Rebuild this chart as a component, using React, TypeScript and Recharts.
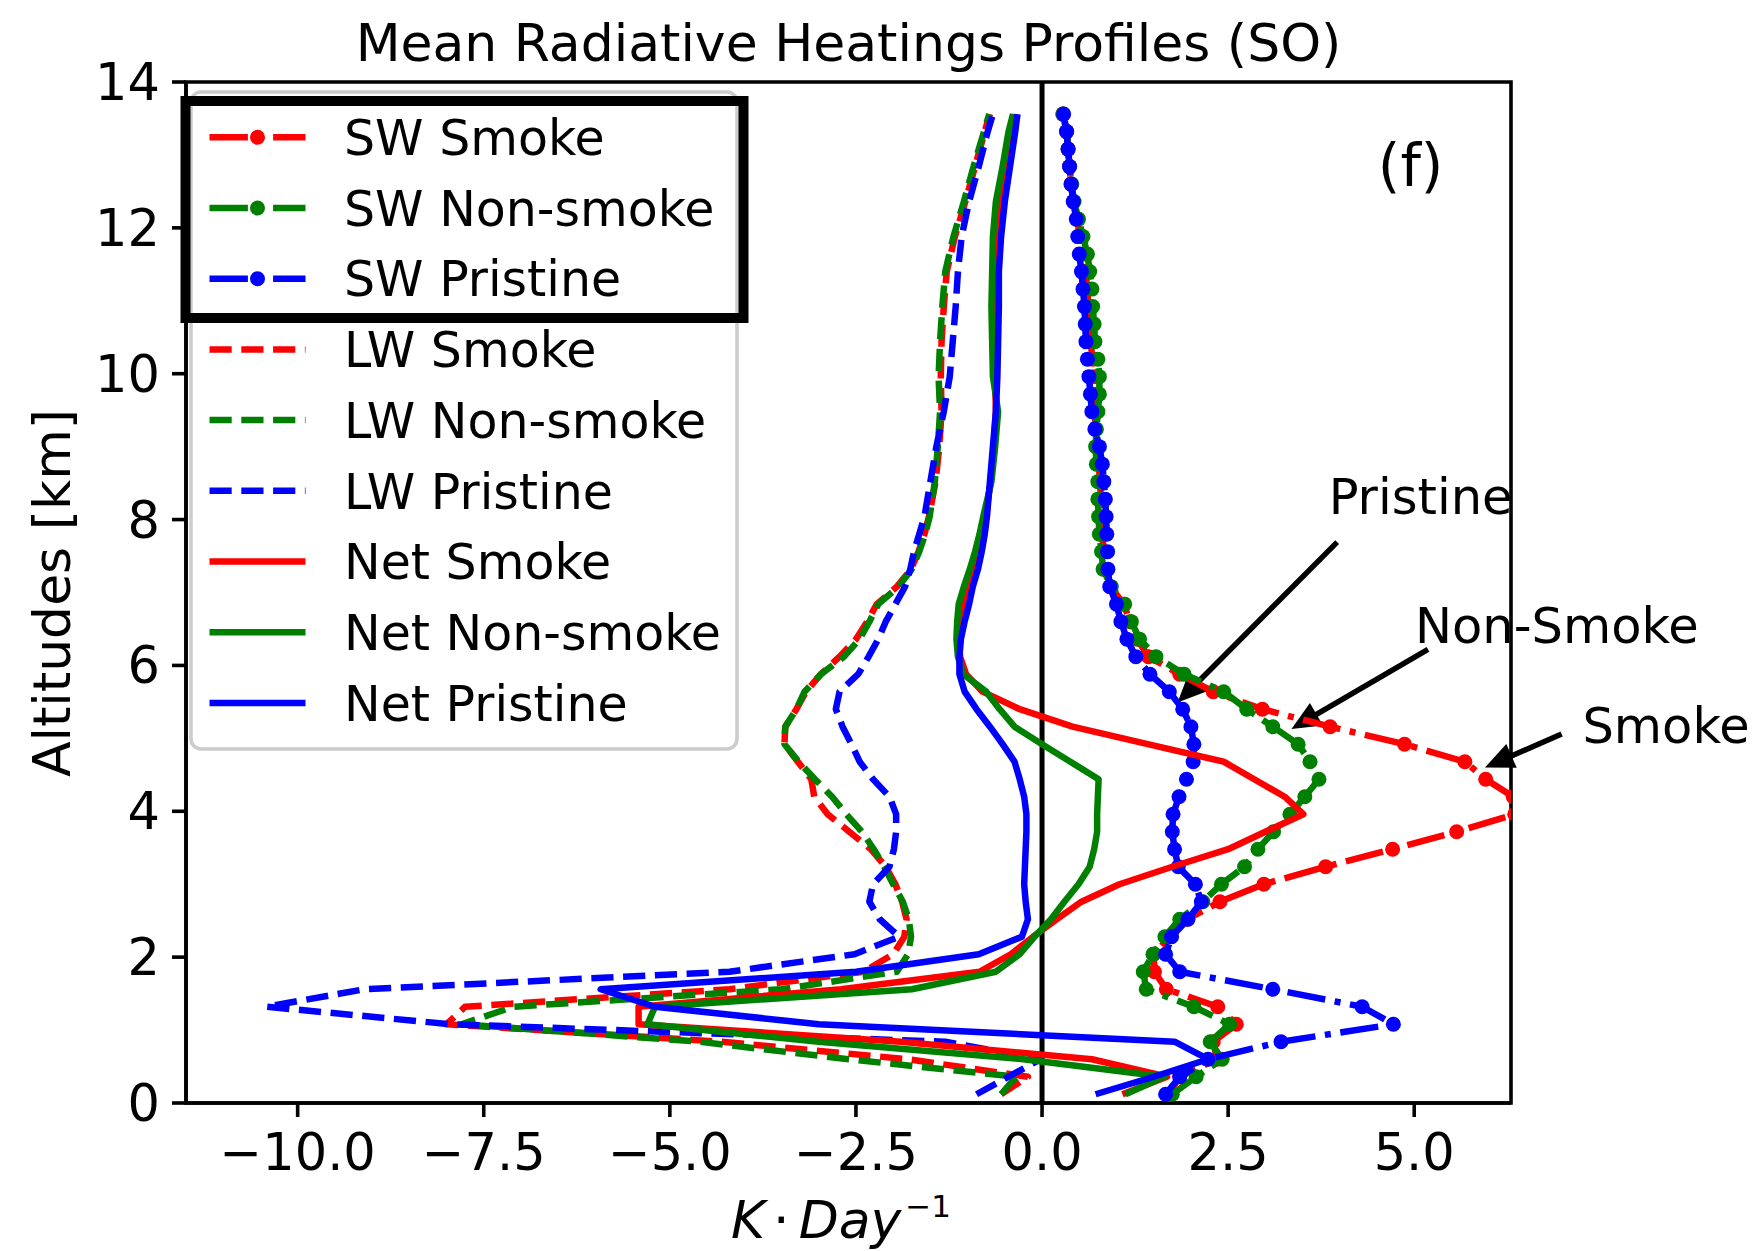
import React from 'react';
import { ScatterChart, Scatter, XAxis, YAxis, ReferenceLine, ReferenceArea, ReferenceDot } from 'recharts';

const FONT = 'DejaVu Sans, sans-serif';

// ---------- data (km, K/day) ----------
const swAltitudes = [0.12, 0.36, 0.60, 0.84, 1.08, 1.32, 1.56, 1.80, 2.04, 2.28, 2.52, 2.76, 3.00, 3.24, 3.48, 3.72, 3.96, 4.20, 4.44, 4.68, 4.92, 5.16, 5.40, 5.64, 5.88, 6.12, 6.36, 6.60, 6.84, 7.08, 7.32, 7.56, 7.80, 8.04, 8.28, 8.52, 8.76, 9.00, 9.24, 9.48, 9.72, 9.96, 10.20, 10.44, 10.68, 10.92, 11.16, 11.40, 11.64, 11.88, 12.12, 12.36, 12.60, 12.84, 13.08, 13.32, 13.56];

const swSmoke = [1.70, 1.85, 2.35, 2.30, 2.61, 2.36, 1.67, 1.51, 1.50, 1.72, 1.95, 2.39, 2.98, 3.81, 4.71, 5.57, 6.35, 6.33, 5.96, 5.68, 4.87, 3.87, 2.96, 2.30, 1.85, 1.43, 1.28, 1.18, 1.10, 0.92, 0.84, 0.83, 0.81, 0.80, 0.79, 0.78, 0.76, 0.74, 0.72, 0.71, 0.71, 0.70, 0.68, 0.65, 0.64, 0.62, 0.61, 0.58, 0.55, 0.51, 0.47, 0.42, 0.39, 0.37, 0.35, 0.33, 0.28];
const swNonSmoke = [1.75, 2.07, 2.42, 2.26, 2.52, 2.04, 1.40, 1.36, 1.49, 1.65, 1.85, 2.16, 2.41, 2.72, 2.90, 3.11, 3.33, 3.53, 3.72, 3.60, 3.44, 3.10, 2.75, 2.44, 1.91, 1.53, 1.31, 1.20, 1.11, 0.93, 0.82, 0.80, 0.77, 0.76, 0.75, 0.75, 0.73, 0.72, 0.73, 0.75, 0.77, 0.77, 0.75, 0.71, 0.70, 0.68, 0.67, 0.64, 0.61, 0.55, 0.49, 0.43, 0.40, 0.37, 0.35, 0.33, 0.28];
const swPristine = [1.66, 1.85, 2.23, 3.21, 4.72, 4.30, 3.10, 1.85, 1.66, 1.74, 1.96, 2.14, 2.06, 1.83, 1.78, 1.75, 1.76, 1.84, 1.94, 2.03, 2.04, 2.00, 1.89, 1.71, 1.45, 1.26, 1.14, 1.06, 1.00, 0.91, 0.885, 0.88, 0.87, 0.86, 0.85, 0.83, 0.81, 0.77, 0.71, 0.67, 0.65, 0.63, 0.61, 0.59, 0.58, 0.57, 0.55, 0.53, 0.50, 0.48, 0.46, 0.42, 0.39, 0.37, 0.35, 0.33, 0.29];

const profileAltitudes = [0.12, 0.36, 0.60, 0.84, 1.08, 1.32, 1.56, 1.80, 2.04, 2.28, 2.52, 2.76, 3.00, 3.24, 3.48, 3.72, 3.96, 4.20, 4.44, 4.68, 4.92, 5.16, 5.40, 5.64, 5.88, 6.12, 6.36, 6.60, 6.84, 7.08, 7.32, 7.56, 7.80, 8.04, 8.52, 9.00, 9.48, 9.96, 10.44, 10.92, 11.40, 11.88, 12.36, 12.84, 13.32, 13.56];

const lwSmoke = [-0.55, -0.19, -1.80, -4.30, -8.00, -7.75, -4.20, -2.40, -2.00, -1.85, -1.82, -1.88, -1.97, -2.10, -2.30, -2.59, -2.88, -3.06, -3.10, -3.28, -3.46, -3.45, -3.30, -3.17, -2.97, -2.72, -2.50, -2.35, -2.22, -1.95, -1.76, -1.66, -1.58, -1.52, -1.43, -1.38, -1.35, -1.36, -1.35, -1.32, -1.28, -1.17, -1.03, -0.90, -0.77, -0.70];
const lwNonSmoke = [-0.55, -0.35, -2.60, -4.60, -7.80, -7.10, -3.50, -1.95, -1.80, -1.76, -1.79, -1.87, -2.00, -2.12, -2.26, -2.42, -2.63, -2.82, -3.05, -3.27, -3.46, -3.45, -3.30, -3.19, -2.97, -2.66, -2.45, -2.32, -2.20, -1.93, -1.75, -1.65, -1.57, -1.51, -1.44, -1.40, -1.37, -1.39, -1.37, -1.34, -1.30, -1.19, -1.05, -0.92, -0.78, -0.71];
const lwPristine = [-0.88, -0.45, -0.02, -1.30, -7.95, -10.42, -9.10, -4.20, -2.52, -1.92, -2.18, -2.32, -2.27, -2.05, -1.99, -1.96, -1.96, -2.05, -2.27, -2.45, -2.56, -2.68, -2.77, -2.72, -2.47, -2.33, -2.20, -2.10, -1.97, -1.84, -1.77, -1.72, -1.65, -1.58, -1.50, -1.42, -1.32, -1.24, -1.20, -1.16, -1.13, -1.08, -0.98, -0.85, -0.73, -0.66];

const netSmoke = [1.08, 1.68, 0.67, -1.90, -5.42, -5.42, -2.70, -0.84, -0.42, -0.12, 0.20, 0.53, 1.04, 1.75, 2.50, 3.00, 3.51, 3.26, 2.85, 2.44, 1.42, 0.41, -0.30, -0.80, -1.02, -1.10, -1.12, -1.10, -1.06, -1.00, -0.93, -0.86, -0.80, -0.76, -0.69, -0.65, -0.62, -0.63, -0.63, -0.63, -0.62, -0.60, -0.56, -0.48, -0.41, -0.36];
const netNonSmoke = [1.12, 1.64, -0.25, -3.00, -5.30, -5.20, -1.75, -0.62, -0.30, -0.10, 0.12, 0.30, 0.49, 0.64, 0.70, 0.74, 0.74, 0.75, 0.76, 0.38, 0.00, -0.37, -0.57, -0.75, -1.06, -1.13, -1.15, -1.14, -1.12, -1.05, -0.97, -0.90, -0.84, -0.79, -0.68, -0.63, -0.59, -0.66, -0.67, -0.68, -0.67, -0.66, -0.62, -0.53, -0.45, -0.39];
const netPristine = [0.72, 1.50, 2.23, 1.78, -3.00, -5.20, -5.93, -2.50, -0.85, -0.27, -0.19, -0.22, -0.24, -0.23, -0.22, -0.21, -0.21, -0.24, -0.30, -0.37, -0.53, -0.70, -0.88, -1.04, -1.11, -1.11, -1.09, -1.04, -0.98, -0.93, -0.86, -0.81, -0.77, -0.74, -0.70, -0.66, -0.62, -0.60, -0.59, -0.58, -0.58, -0.55, -0.50, -0.43, -0.36, -0.33];

const seriesNames = ['SW Smoke', 'SW Non-smoke', 'SW Pristine', 'LW Smoke', 'LW Non-smoke', 'LW Pristine', 'Net Smoke', 'Net Non-smoke', 'Net Pristine'];

const xTicks = [-10, -7.5, -5, -2.5, 0, 2.5, 5];
const yTicks = [0, 2, 4, 6, 8, 10, 12, 14];
const xDomain: [number, number] = [-11.5, 6.3];
const yDomain: [number, number] = [0, 14];

const annotationLabels = ['Pristine', 'Non-Smoke', 'Smoke'];
const annotationTextX = [3.85, 5.01, 7.26];
const annotationTextY = [8.08, 6.31, 4.94];
const arrowFromX = [3.965, 5.185, 6.98];
const arrowFromY = [7.69, 6.22, 5.06];
const arrowToX = [1.82, 3.35, 5.95];
const arrowToY = [5.49, 5.13, 4.60];
const panelLabel = '(f)';
const panelLabelX = 4.51;
const panelLabelY = 12.57;

// ---------- styles ----------
const RED = '#ff0000';
const GREEN = '#008000';
const BLUE = '#0000ff';
const LW = 6.5;
const DOT_R = 7.5;
const AX_W = 3.6;
const styles: Record<string, { dash?: string; marker: boolean }> = {
  sw: { dash: '38.4 9.6 6 9.6', marker: true },
  lw: { dash: '22.2 9.6', marker: false },
  net: { marker: false },
};

const toPoints = (alts: number[], vals: number[]) => alts.map((y, i) => ({ x: vals[i], y }));

const series = [
  { name: seriesNames[0], data: toPoints(swAltitudes, swSmoke), color: RED, kind: 'sw' },
  { name: seriesNames[1], data: toPoints(swAltitudes, swNonSmoke), color: GREEN, kind: 'sw' },
  { name: seriesNames[2], data: toPoints(swAltitudes, swPristine), color: BLUE, kind: 'sw' },
  { name: seriesNames[3], data: toPoints(profileAltitudes, lwSmoke), color: RED, kind: 'lw' },
  { name: seriesNames[4], data: toPoints(profileAltitudes, lwNonSmoke), color: GREEN, kind: 'lw' },
  { name: seriesNames[5], data: toPoints(profileAltitudes, lwPristine), color: BLUE, kind: 'lw' },
  { name: seriesNames[6], data: toPoints(profileAltitudes, netSmoke), color: RED, kind: 'net' },
  { name: seriesNames[7], data: toPoints(profileAltitudes, netNonSmoke), color: GREEN, kind: 'net' },
  { name: seriesNames[8], data: toPoints(profileAltitudes, netPristine), color: BLUE, kind: 'net' },
];

const fmtX = (v: number) => v.toFixed(1).replace('-', '\u2212');

const XTick = (p: any) => (
  <text x={p.x} y={p.y + 53} textAnchor="middle" fontSize={51} fontFamily={FONT} fill="#000">
    {fmtX(p.payload.value)}
  </text>
);
const YTick = (p: any) => (
  <text x={p.x - 12} y={p.y + 18} textAnchor="end" fontSize={51} fontFamily={FONT} fill="#000">
    {String(p.payload.value)}
  </text>
);

const Arrow = (p: any) => {
  const { x1, y1, x2, y2 } = p;
  const dx = x2 - x1;
  const dy = y2 - y1;
  const len = Math.hypot(dx, dy) || 1;
  const ux = dx / len;
  const uy = dy / len;
  const hl = 29;
  const hw = 13;
  const bx = x2 - ux * hl;
  const by = y2 - uy * hl;
  const px = -uy;
  const py = ux;
  return (
    <g>
      <line x1={x1} y1={y1} x2={bx + ux * 2} y2={by + uy * 2} stroke="#000" strokeWidth={5.5} />
      <polygon points={`${x2},${y2} ${bx + px * hw},${by + py * hw} ${bx - px * hw},${by - py * hw}`} fill="#000" />
    </g>
  );
};

const ZeroLine = (p: any) => (
  <line x1={p.x1} y1={p.y1} x2={p.x2} y2={p.y2} stroke="#000" strokeWidth={5} />
);

const makeText = (label: string, size: number) => (p: any) => (
  <text x={p.cx} y={p.cy} fontSize={size} fontFamily={FONT} fill="#000" textAnchor="start">
    {label}
  </text>
);

const makeDot = (color: string) => (p: any) => <circle cx={p.cx} cy={p.cy} r={DOT_R} fill={color} />;
const noDot = () => <g />;

const Overlay = () => {
  const legendTop = 155;
  const step = 70.7;
  return (
    <svg
      width={1763}
      height={1251}
      style={{ position: 'absolute', left: 0, top: 0, pointerEvents: 'none' }}
      fontFamily={FONT}
    >
      <text x={848.5} y={61} textAnchor="middle" fontSize={52} fill="#000">
        Mean Radiative Heatings Profiles (SO)
      </text>
      <text transform="translate(70,593) rotate(-90)" textAnchor="middle" fontSize={52} fill="#000">
        Altitudes [km]
      </text>
      <text x={731} y={1238} fontSize={52} fill="#000">
        <tspan fontStyle="italic">K</tspan>
        <tspan dx={8}>{'\u00b7'}</tspan>
        <tspan dx={9} fontStyle="italic">Day</tspan>
        <tspan dx={4} dy={-21} fontSize={31}>{'\u22121'}</tspan>
      </text>
      {/* legend */}
      <rect x={191} y={92} width={546} height={657} rx={10} fill="rgba(255,255,255,0.8)" stroke="#cccccc" strokeWidth={3.6} />
      {series.map((s, i) => {
        const st = styles[s.kind];
        const cy = legendTop + i * step - 17.7;
        return (
          <g key={s.name}>
            <line x1={209.5} x2={305.5} y1={cy} y2={cy} stroke={s.color} strokeWidth={LW} strokeDasharray={st.dash} />
            {st.marker ? <circle cx={257.5} cy={cy} r={DOT_R} fill={s.color} /> : null}
            <text x={344} y={legendTop + i * step} fontSize={49} fill="#000">
              {s.name}
            </text>
          </g>
        );
      })}
      <rect x={185.5} y={101} width={558} height={217} fill="none" stroke="#000" strokeWidth={10} />
    </svg>
  );
};

export default function App() {
  return (
    <div style={{ position: 'absolute', left: 0, top: 0, width: 1763, height: 1251, background: '#fff', fontFamily: FONT }}>
      <ScatterChart width={1763} height={1251} margin={{ top: 82, right: 252, bottom: 88, left: 86 }}>
        <XAxis
          type="number"
          dataKey="x"
          domain={xDomain}
          allowDataOverflow
          ticks={xTicks}
          interval={0}
          height={60}
          tickSize={14}
          tickMargin={0}
          tick={(p: any) => <XTick {...p} />}
          tickLine={{ stroke: '#000', strokeWidth: AX_W }}
          axisLine={{ stroke: '#000', strokeWidth: AX_W }}
        />
        <YAxis
          type="number"
          dataKey="y"
          domain={yDomain}
          allowDataOverflow
          ticks={yTicks}
          interval={0}
          width={100}
          tickSize={14}
          tickMargin={0}
          tick={(p: any) => <YTick {...p} />}
          tickLine={{ stroke: '#000', strokeWidth: AX_W }}
          axisLine={{ stroke: '#000', strokeWidth: AX_W }}
        />
        <ReferenceLine x={0} stroke="#000" strokeWidth={5} shape={ZeroLine} />
        {series.map((s) => {
          const st = styles[s.kind];
          return (
            <Scatter
              key={s.name}
              name={s.name}
              data={s.data}
              fill={s.color}
              stroke={s.color}
              strokeWidth={LW}
              line={{ stroke: s.color, strokeWidth: LW, strokeDasharray: st.dash, strokeLinejoin: 'round' }}
              lineType="joint"
              lineJointType="linear"
              shape={st.marker ? makeDot(s.color) : noDot}
              isAnimationActive={false}
            />
          );
        })}
        <ReferenceArea x1={xDomain[0]} x2={xDomain[1]} y1={yDomain[0]} y2={yDomain[1]} fill="none" fillOpacity={0} stroke="#000" strokeWidth={AX_W} ifOverflow="visible" />
        {annotationLabels.map((label, i) => (
          <ReferenceLine
            key={'arrow-' + label}
            segment={[
              { x: arrowFromX[i], y: arrowFromY[i] },
              { x: arrowToX[i], y: arrowToY[i] },
            ]}
            ifOverflow="visible"
            shape={Arrow}
          />
        ))}
        {annotationLabels.map((label, i) => (
          <ReferenceDot
            key={'text-' + label}
            x={annotationTextX[i]}
            y={annotationTextY[i]}
            r={0}
            ifOverflow="visible"
            shape={makeText(label, 49.5)}
          />
        ))}
        <ReferenceDot x={panelLabelX} y={panelLabelY} r={0} ifOverflow="visible" shape={makeText(panelLabel, 58)} />
      </ScatterChart>
      <Overlay />
    </div>
  );
}
